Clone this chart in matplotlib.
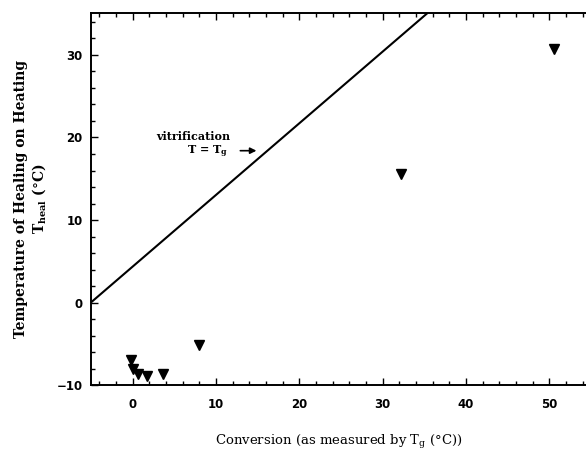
import matplotlib
matplotlib.use("Agg")
import matplotlib.pyplot as plt
from matplotlib.ticker import MultipleLocator

# Data
conv = [-0.2, 0.05, 0.6, 1.7, 3.7, 8.0, 32.2, 50.6]
theal = [-6.9, -8.1, -8.6, -8.85, -8.7, -5.2, 15.6, 30.7]

# vitrification line T = Tg
line_x = [-5.0, 35.3]
line_y = [0.0, 35.0]

xticks = [0, 10, 20, 30, 40, 50]
yticks = [-10, 0, 10, 20, 30]

fig = plt.figure(figsize=(5.86, 4.59), dpi=100)
ax = fig.add_axes([0.155, 0.161, 0.845, 0.811])

ax.plot(line_x, line_y, color="black", lw=1.5)
ax.plot(conv, theal, linestyle="none", marker="v", color="black", markersize=7)

ax.set_xlim(-5, 54.4)
ax.set_ylim(-10, 35.1)
ax.set_xticks(xticks)
ax.set_yticks(yticks)
ax.xaxis.set_minor_locator(MultipleLocator(2))
ax.yaxis.set_minor_locator(MultipleLocator(2))
ax.tick_params(which="both", direction="in", top=True, right=False, width=1.0)
ax.tick_params(which="major", length=5)
ax.tick_params(which="minor", length=3)
for lab in ax.get_xticklabels() + ax.get_yticklabels():
    lab.set_fontfamily("DejaVu Sans")
    lab.set_fontweight("bold")
    lab.set_fontsize(8.5)
ax.tick_params(axis="x", pad=9)
ax.tick_params(axis="y", pad=6)
ax.spines["right"].set_visible(False)
for s in ax.spines.values():
    s.set_linewidth(1.4)

ax.set_xlabel(r"Conversion (as measured by T$_\mathregular{g}$ ($\degree$C))",
              family="DejaVu Serif", fontsize=9.5, labelpad=16)
ax.set_ylabel("Temperature of Healing on Heating\n" + r"T$_\mathregular{heal}$ ($\degree$C)",
              family="DejaVu Serif", fontweight="bold", fontsize=10, labelpad=6)

ax.text(7.3, 20.1, "vitrification", family="DejaVu Serif", fontweight="bold",
        fontsize=8, ha="center", va="center")
ax.text(9.0, 18.3, r"T = T$_\mathregular{g}$", family="DejaVu Serif", fontweight="bold",
        fontsize=8, ha="center", va="center")
ax.annotate("", xy=(15.2, 18.4), xytext=(12.6, 18.4),
            arrowprops=dict(arrowstyle="-|>", color="black", lw=1.2, mutation_scale=9))

fig.savefig("out.png", dpi=100)
